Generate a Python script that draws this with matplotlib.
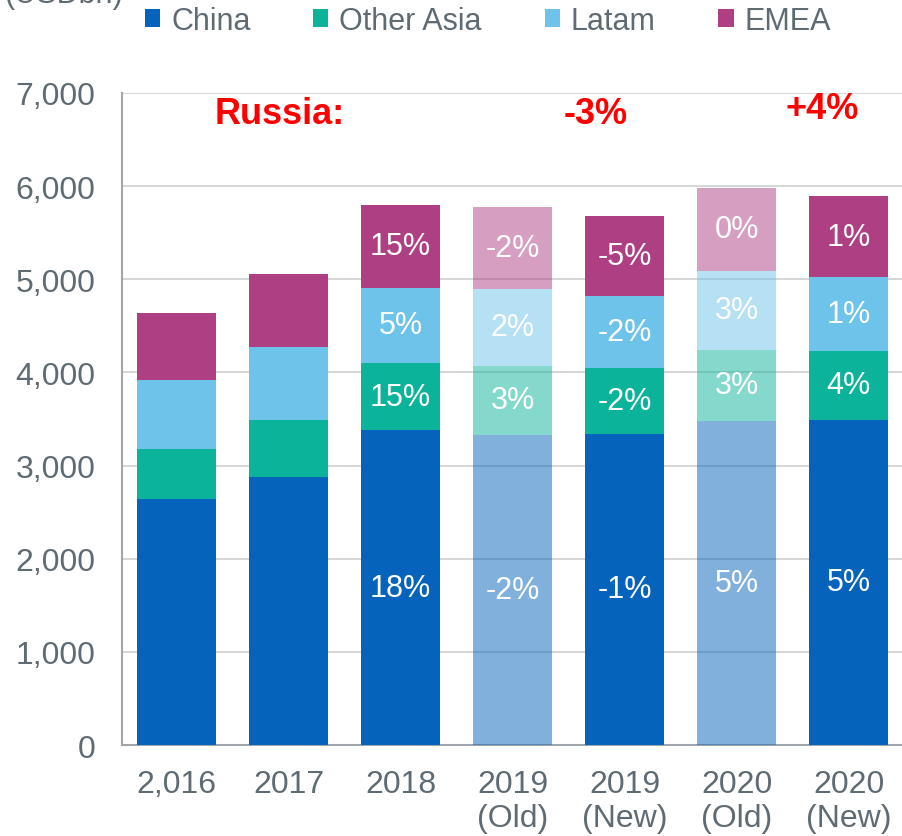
import matplotlib
matplotlib.use("Agg")
import matplotlib.pyplot as plt
from matplotlib.patches import Patch
import numpy as np

plt.rcParams["font.family"] = ["Liberation Sans", "DejaVu Sans"]

# ── data (USDbn)
categories = ["2,016", "2017", "2018", "2019\n(Old)", "2019\n(New)", "2020\n(Old)", "2020\n(New)"]
china      = [2640, 2880, 3380, 3330, 3340, 3480, 3490]
other_asia = [540, 610, 720, 740, 710, 760, 740]
latam      = [740, 785, 810, 830, 770, 850, 790]
emea       = [720, 785, 890, 880, 860, 890, 870]

china_lbl = ["", "", "18%", "-2%", "-1%", "5%", "5%"]
oa_lbl    = ["", "", "15%", "3%", "-2%", "3%", "4%"]
latam_lbl = ["", "", "5%", "2%", "-2%", "3%", "1%"]
emea_lbl  = ["", "", "15%", "-2%", "-5%", "0%", "1%"]

old_idx = [3, 5]   # "Old" estimates drawn faded

russia_txt = ["Russia:", "-3%", "+4%"]
russia_x   = [0.92, 3.74, 5.76]
russia_y   = [6780, 6780, 6830]

series = [
    ("China", china, china_lbl, "#0563BB"),
    ("Other Asia", other_asia, oa_lbl, "#0BB39B"),
    ("Latam", latam, latam_lbl, "#6EC3EA"),
    ("EMEA", emea, emea_lbl, "#AE3F82"),
]

GREY = "#5F6B73"

fig = plt.figure(figsize=(9.02, 8.37), dpi=100)
ax = fig.add_axes([0.135, 0.1087, 0.868, 0.779])

x = np.arange(len(categories))
bottom = np.zeros(len(categories))
for name, vals, lbls, col in series:
    vals = np.array(vals, dtype=float)
    alphas = [0.5 if i in old_idx else 1.0 for i in range(len(vals))]
    bars = ax.bar(x, vals, bottom=bottom, width=0.71, color=col, zorder=3,
                  edgecolor="none")
    for b, a in zip(bars, alphas):
        b.set_alpha(a)
    ax.bar_label(bars, labels=lbls, label_type="center", color="white",
                 fontsize=22, zorder=4)
    bottom += vals

for t, tx, ty in zip(russia_txt, russia_x, russia_y):
    ax.text(tx, ty, t, color="#FF0000", fontsize=26, fontweight="bold",
            ha="center", va="center")

ax.set_xlim(-0.49, 6.5)
ax.set_ylim(0, 7000)
ax.set_yticks(range(0, 7001, 1000))
ax.set_yticklabels([f"{v:,}" for v in range(0, 7001, 1000)])
ax.set_xticks(x)
ax.set_xticklabels(categories)
ax.tick_params(axis="both", length=0, labelsize=23, colors=GREY)
ax.tick_params(axis="y", pad=19)
ax.tick_params(axis="x", pad=17)
ax.yaxis.grid(True, color="#D0D0D0", linewidth=1.2, zorder=0)
ax.set_axisbelow(True)
for s in ["top", "right"]:
    ax.spines[s].set_visible(False)
ax.spines["left"].set_color("#A0A6AB")
ax.spines["bottom"].set_color("#A0A6AB")
ax.spines["left"].set_linewidth(1.5)
ax.spines["bottom"].set_linewidth(1.5)

handles = [Patch(facecolor=c, edgecolor="none") for _, _, _, c in series]
fig.legend(handles, [s[0] for s in series], loc="center", ncol=4,
           bbox_to_anchor=(0.541, 0.974), frameon=False, fontsize=22,
           handlelength=0.5, handleheight=0.56, handletextpad=0.36,
           columnspacing=2.05, labelcolor=GREY, borderpad=0)

fig.text(0.005, 1 - 10 / 837, "(USDbn)", fontsize=22, color=GREY,
         ha="left", va="bottom")

fig.savefig("out.png", dpi=100)
